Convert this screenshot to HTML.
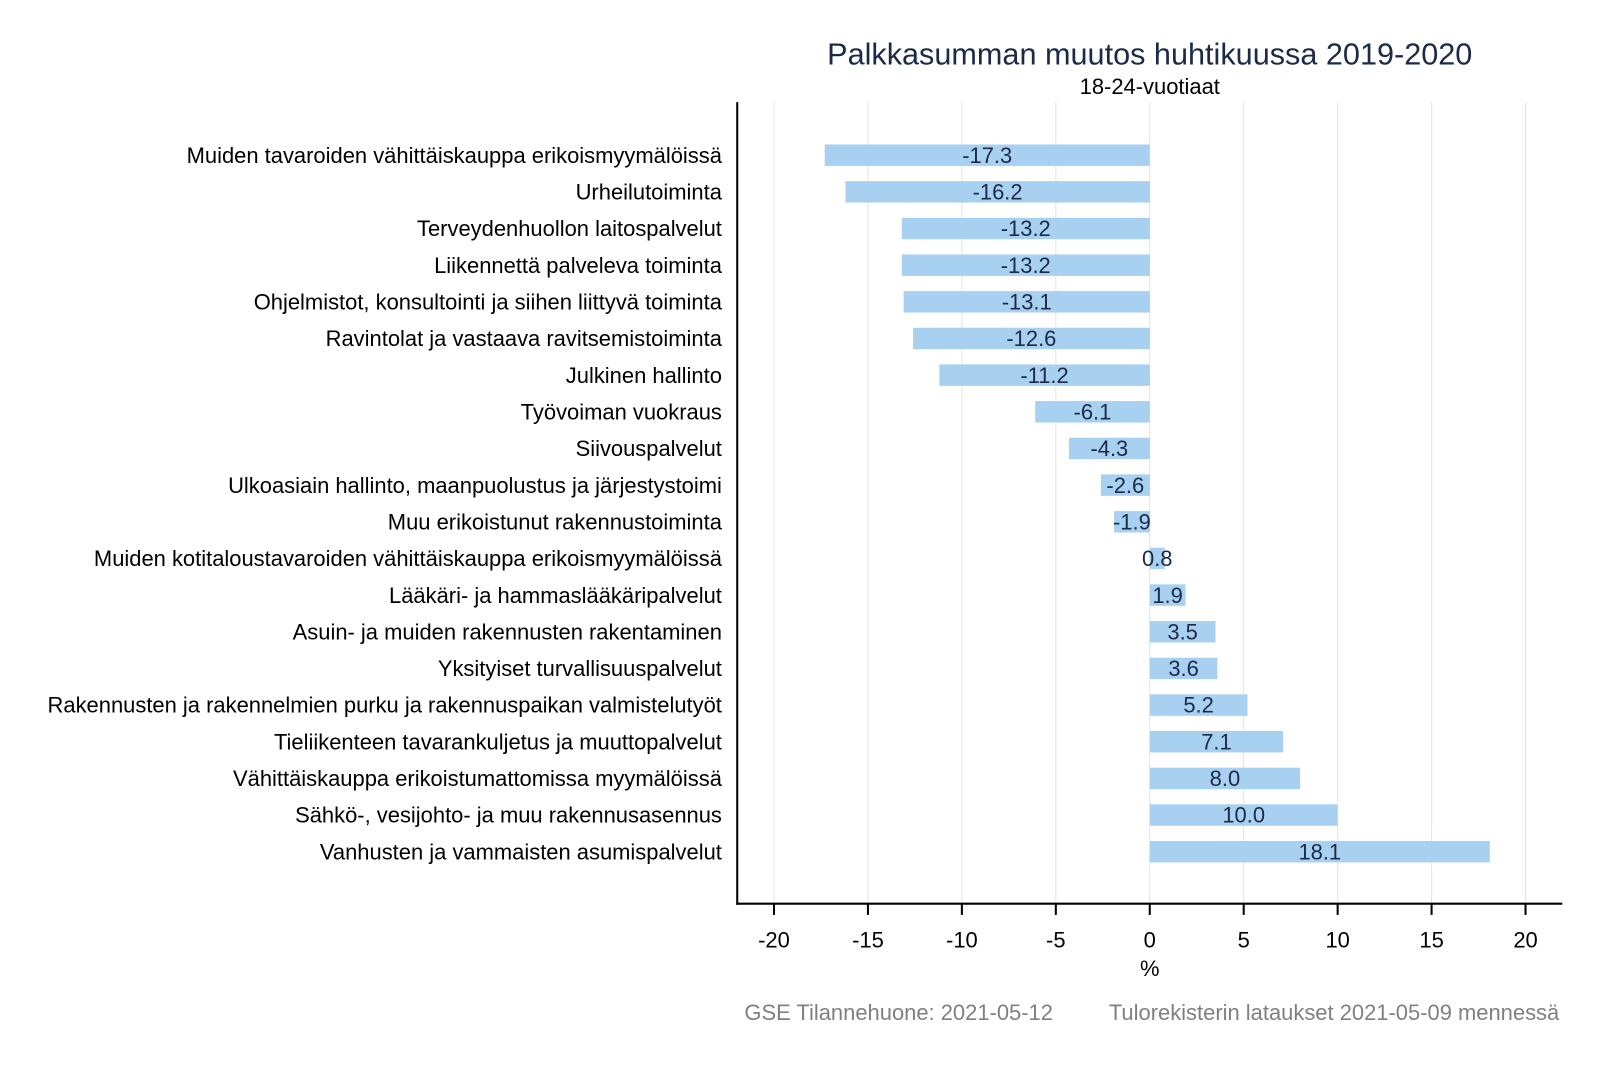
<!DOCTYPE html>
<html><head><meta charset="utf-8"><style>
body{margin:0;background:#fff}
svg text{font-family:"Liberation Sans",Arial,sans-serif}
</style></head><body>
<svg width="1600" height="1067" xmlns="http://www.w3.org/2000/svg">
<rect width="1600" height="1067" fill="#fff"/>
<g transform="scale(1.0211)">
<text x="1126" y="63" font-size="30" fill="#1b2a47" text-anchor="middle">Palkkasumman muutos huhtikuussa 2019-2020</text>
<text x="1126" y="92" font-size="21.5" fill="#000" text-anchor="middle">18-24-vuotiaat</text>
<g stroke="#e4e4e4" stroke-width="1">
<line x1="758" y1="100" x2="758" y2="885"/><line x1="850" y1="100" x2="850" y2="885"/>
<line x1="942" y1="100" x2="942" y2="885"/><line x1="1034" y1="100" x2="1034" y2="885"/>
<line x1="1126" y1="100" x2="1126" y2="885"/><line x1="1218" y1="100" x2="1218" y2="885"/>
<line x1="1310" y1="100" x2="1310" y2="885"/><line x1="1402" y1="100" x2="1402" y2="885"/>
<line x1="1494" y1="100" x2="1494" y2="885"/>
</g>
<g id="bars" fill="#a8d1f1"></g>
<g id="lbl" font-size="21.5" fill="#000" text-anchor="end"></g>
<g id="val" font-size="21.5" fill="#1b2a47" text-anchor="middle"></g>
<line x1="722" y1="100" x2="722" y2="886" stroke="#000" stroke-width="2"/>
<line x1="721" y1="885" x2="1530" y2="885" stroke="#000" stroke-width="2"/>
<g stroke="#000" stroke-width="2">
<line x1="758" y1="885" x2="758" y2="896"/><line x1="850" y1="885" x2="850" y2="896"/><line x1="942" y1="885" x2="942" y2="896"/><line x1="1034" y1="885" x2="1034" y2="896"/><line x1="1126" y1="885" x2="1126" y2="896"/><line x1="1218" y1="885" x2="1218" y2="896"/><line x1="1310" y1="885" x2="1310" y2="896"/><line x1="1402" y1="885" x2="1402" y2="896"/><line x1="1494" y1="885" x2="1494" y2="896"/>
</g>
<g font-size="21.5" fill="#000" text-anchor="middle">
<text x="758" y="928">-20</text><text x="850" y="928">-15</text><text x="942" y="928">-10</text><text x="1034" y="928">-5</text><text x="1126" y="928">0</text><text x="1218" y="928">5</text><text x="1310" y="928">10</text><text x="1402" y="928">15</text><text x="1494" y="928">20</text>
<text x="1126" y="956">%</text>
</g>
<g font-size="21.5" fill="#808080">
<text x="729" y="999">GSE Tilannehuone: 2021-05-12</text>
<text x="1527" y="999" text-anchor="end">Tulorekisterin lataukset 2021-05-09 mennessä</text>
</g>
</g>
</svg>
<script>
const d=[["Muiden tavaroiden vähittäiskauppa erikoismyymälöissä",-17.3],["Urheilutoiminta",-16.2],["Terveydenhuollon laitospalvelut",-13.2],["Liikennettä palveleva toiminta",-13.2],["Ohjelmistot, konsultointi ja siihen liittyvä toiminta",-13.1],["Ravintolat ja vastaava ravitsemistoiminta",-12.6],["Julkinen hallinto",-11.2],["Työvoiman vuokraus",-6.1],["Siivouspalvelut",-4.3],["Ulkoasiain hallinto, maanpuolustus ja järjestystoimi",-2.6],["Muu erikoistunut rakennustoiminta",-1.9],["Muiden kotitaloustavaroiden vähittäiskauppa erikoismyymälöissä",0.8],["Lääkäri- ja hammaslääkäripalvelut",1.9],["Asuin- ja muiden rakennusten rakentaminen",3.5],["Yksityiset turvallisuuspalvelut",3.6],["Rakennusten ja rakennelmien purku ja rakennuspaikan valmistelutyöt",5.2],["Tieliikenteen tavarankuljetus ja muuttopalvelut",7.1],["Vähittäiskauppa erikoistumattomissa myymälöissä",8.0],["Sähkö-, vesijohto- ja muu rakennusasennus",10.0],["Vanhusten ja vammaisten asumispalvelut",18.1]];
const ns="http://www.w3.org/2000/svg",B=document.getElementById("bars"),L=document.getElementById("lbl"),V=document.getElementById("val");
d.forEach((r,i)=>{const y=152+i*35.9,x0=1126,x1=1126+r[1]*18.4;
const b=document.createElementNS(ns,"rect");b.setAttribute("x",Math.min(x0,x1));b.setAttribute("width",Math.abs(x1-x0));b.setAttribute("y",y-10.5);b.setAttribute("height",21);B.appendChild(b);
const t=document.createElementNS(ns,"text");t.setAttribute("x",707);t.setAttribute("y",y+7.5);t.textContent=r[0];L.appendChild(t);
const v=document.createElementNS(ns,"text");v.setAttribute("x",(x0+x1)/2);v.setAttribute("y",y+7.5);v.textContent=r[1].toFixed(1);V.appendChild(v);});
</script>
</body></html>
